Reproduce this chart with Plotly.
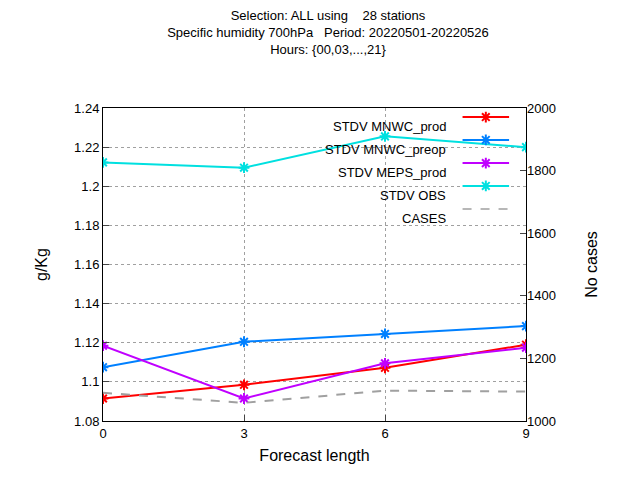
import plotly.graph_objs as go

leads = [0, 3, 6, 9]
mnwc_prod = [1.0915, 1.0985, 1.1072, 1.1190]
mnwc_preop = [1.1075, 1.1205, 1.1245, 1.1285]
meps_prod = [1.1185, 1.0915, 1.1095, 1.1175]
obs = [1.2122, 1.2095, 1.2255, 1.2200]
cases = [1090, 1058, 1097, 1094]

names = ["STDV MNWC_prod", "STDV MNWC_preop", "STDV MEPS_prod", "STDV OBS"]
colors = ["#ff0000", "#0080ff", "#c000ff", "#00e0e0"]
series = [mnwc_prod, mnwc_preop, meps_prod, obs]

yticks = [1.08, 1.1, 1.12, 1.14, 1.16, 1.18, 1.2, 1.22, 1.24]
ytext = ["1.08", "1.1", "1.12", "1.14", "1.16", "1.18", "1.2", "1.22", "1.24"]

fig = go.Figure()

# cases on right axis
fig.add_trace(go.Scatter(x=leads, y=cases, yaxis="y2", mode="lines",
                         line=dict(color="#a0a0a0", width=2, dash="dash"),
                         showlegend=False))

for name, c, s in zip(names, colors, series):
    fig.add_trace(go.Scatter(x=leads, y=s, mode="lines+markers", name=name,
                             line=dict(color=c, width=2),
                             marker=dict(symbol="asterisk-open", size=9, color=c,
                                         line=dict(color=c, width=2)),
                             showlegend=False))

# gnuplot-style legend: text right, sample on the right
leg_names = names + ["CASES"]
leg_colors = colors + ["#a0a0a0"]
row_y = [0.971, 0.898, 0.824, 0.751, 0.677]
for i, (n, c) in enumerate(zip(leg_names, leg_colors)):
    fig.add_annotation(x=0.815, y=row_y[i], xref="paper", yref="paper",
                       text=n, showarrow=False, xanchor="right",
                       font=dict(size=13, color="black"))
    if n == "CASES":
        fig.add_trace(go.Scatter(x=[0.85, 0.96], y=[row_y[i]] * 2, xaxis="x2", yaxis="y3",
                                 mode="lines", line=dict(color=c, width=1.5, dash="dash"),
                                 showlegend=False))
    else:
        fig.add_trace(go.Scatter(x=[0.85, 0.96, None, 0.905], y=[row_y[i]] * 2 + [None, row_y[i]],
                                 xaxis="x2", yaxis="y3",
                                 mode="lines", line=dict(color=c, width=2),
                                 showlegend=False))
        fig.add_trace(go.Scatter(x=[0.905], y=[row_y[i]], xaxis="x2", yaxis="y3",
                                 mode="markers",
                                 marker=dict(symbol="asterisk-open", size=9, color=c,
                                             line=dict(color=c, width=2)),
                                 showlegend=False))

fig.update_layout(
    width=640, height=480, autosize=False,
    plot_bgcolor="white", paper_bgcolor="white",
    font=dict(family="Liberation Sans, Arial", size=13, color="black"),
    margin=dict(l=95, r=122, t=100, b=67, autoexpand=False),
    title=dict(text="Selection: ALL using    28 stations<br>Specific humidity 700hPa   Period: 20220501-20220526<br>Hours: {00,03,...,21}",
               x=0.5, xanchor="center", y=0.975, yanchor="top", yref="container",
               font=dict(size=13)),
    xaxis=dict(range=[0, 9], tickvals=leads, title=dict(text="Forecast length", standoff=10),
               showgrid=True, gridcolor="#a0a0a0", griddash="dot", gridwidth=1,
               showline=True, linecolor="black", linewidth=1, mirror=True,
               ticks="inside", ticklen=6, zeroline=False, automargin=False),
    yaxis=dict(range=[1.08, 1.24], tickvals=yticks, ticktext=ytext,
               title=dict(text="g/Kg", standoff=22),
               showgrid=True, gridcolor="#a0a0a0", griddash="dot", gridwidth=1,
               showline=True, linecolor="black", linewidth=1, mirror=True,
               ticks="inside", ticklen=6, zeroline=False, automargin=False),
    yaxis2=dict(range=[1000, 2000], overlaying="y", side="right", dtick=200,
                title=dict(text="No cases", standoff=30),
                showgrid=False, ticks="inside", ticklen=6, zeroline=False, automargin=False),
    xaxis2=dict(range=[0, 1], overlaying="x", visible=False),
    yaxis3=dict(range=[0, 1], overlaying="y", visible=False),
)

fig.write_html("out.html")
